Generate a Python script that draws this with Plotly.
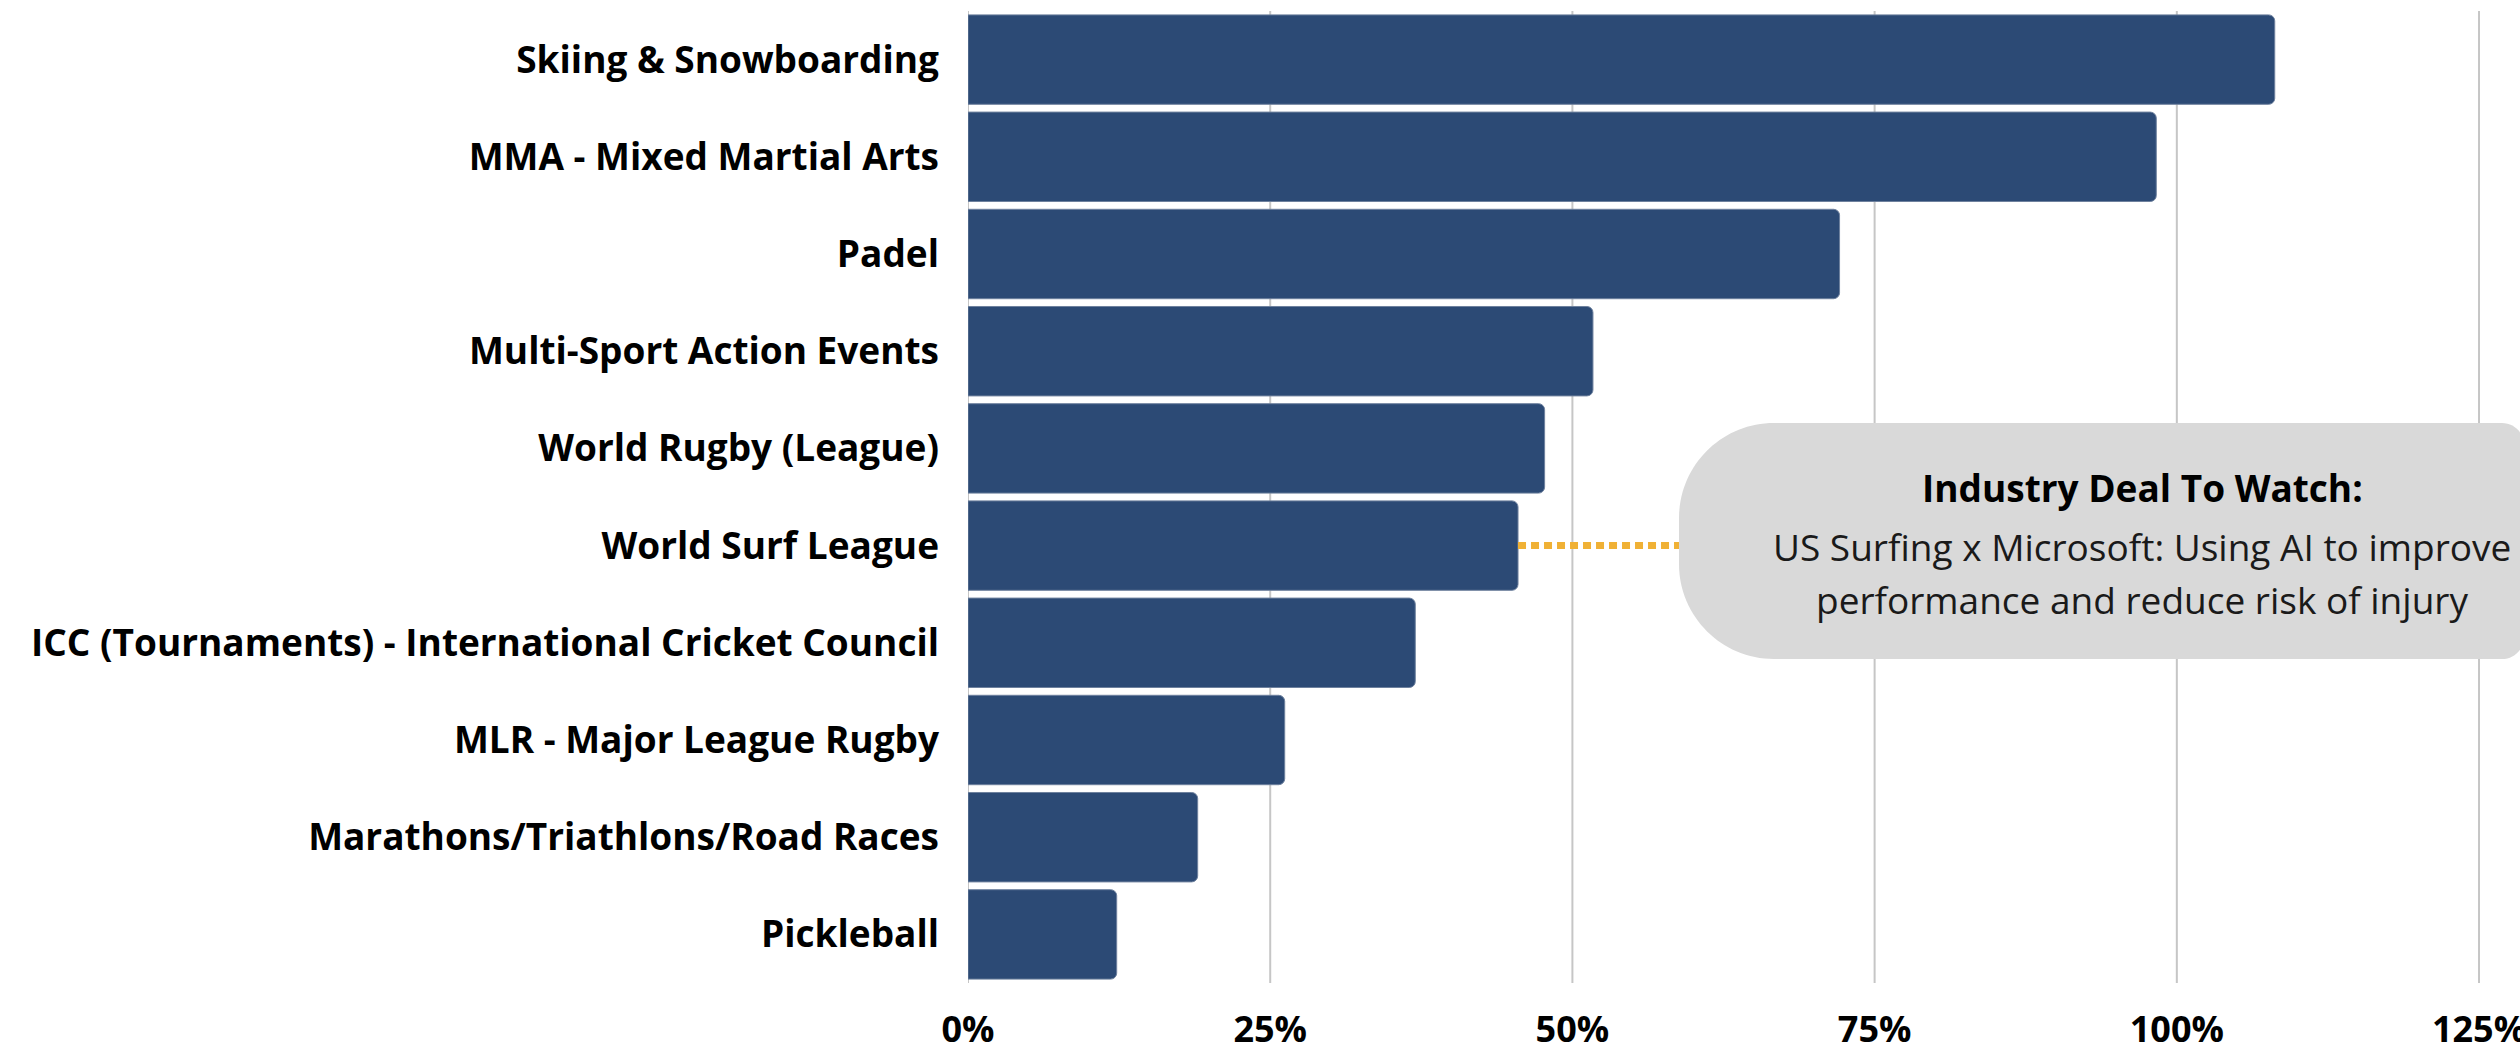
import plotly.graph_objects as go

categories = [
    "Skiing & Snowboarding",
    "MMA - Mixed Martial Arts",
    "Padel",
    "Multi-Sport Action Events",
    "World Rugby (League)",
    "World Surf League",
    "ICC (Tournaments) - International Cricket Council",
    "MLR - Major League Rugby",
    "Marathons/Triathlons/Road Races",
    "Pickleball",
]
values = [108.1, 98.3, 72.1, 51.7, 47.7, 45.5, 37.0, 26.2, 19.0, 12.3]
tick_vals = [0, 25, 50, 75, 100, 125]
tick_text = ["0%", "25%", "50%", "75%", "100%", "125%"]

callout_title = "Industry Deal To Watch:"
callout_lines = [
    "US Surfing x Microsoft: Using AI to improve",
    "performance and reduce risk of injury",
]
callout_category = "World Surf League"

W, H = 2520, 1051
ML, MR, MT, MB = 968, 40, 11, 68
PW = W - ML - MR
PH = H - MT - MB
XMAX = 125.08

def px_to_paper_x(px):
    return (px - ML) / PW

def px_to_paper_y(py):
    return (H - MB - py) / PH

fig = go.Figure()
fig.add_trace(go.Bar(
    y=categories,
    x=values,
    orientation="h",
    marker=dict(color="#2C4A75", line=dict(color="#6E819E", width=1)),
    hoverinfo="skip",
))

# vertical gridlines at the tick values
for v in tick_vals:
    fig.add_shape(type="line", xref="x", yref="paper", x0=v, x1=v, y0=0, y1=1,
                  line=dict(color="#C6C6C6", width=2), layer="below")

# rounded callout box (paper coords)
L = px_to_paper_x(1679)
R = px_to_paper_x(2524)
T = px_to_paper_y(423)
B = px_to_paper_y(659)
r = 95
rx = r / PW
ry = r / PH
r2 = 22
rx2 = r2 / PW
ry2 = r2 / PH
k = 0.5523
path = (
    f"M {L+rx},{T} L {R-rx2},{T} "
    f"C {R-rx2+k*rx2},{T} {R},{T-ry2+k*ry2} {R},{T-ry2} "
    f"L {R},{B+ry2} "
    f"C {R},{B+ry2-k*ry2} {R-rx2+k*rx2},{B} {R-rx2},{B} "
    f"L {L+rx},{B} "
    f"C {L+rx-k*rx},{B} {L},{B+ry-k*ry} {L},{B+ry} "
    f"L {L},{T-ry} "
    f"C {L},{T-ry+k*ry} {L+rx-k*rx},{T} {L+rx},{T} Z"
)
fig.add_shape(type="path", path=path, xref="paper", yref="paper",
              fillcolor="#D9D9D9", line=dict(width=0), layer="above")

# dotted connector from bar end to callout box
surf_val = values[categories.index(callout_category)]
fig.add_shape(type="line", xref="x", yref="y",
              x0=surf_val, x1=L * XMAX, y0=callout_category, y1=callout_category,
              line=dict(color="#F0B135", width=7, dash="8px,5px"), layer="above")

cx = px_to_paper_x(2142)
fig.add_annotation(x=cx, y=px_to_paper_y(487), xref="paper", yref="paper",
                   text=f"<b>{callout_title}</b>", showarrow=False,
                   font=dict(family="Open Sans", size=37, color="#000000"),
                   xanchor="center", yanchor="middle")
for line, py in zip(callout_lines, [546, 599]):
    fig.add_annotation(x=cx, y=px_to_paper_y(py), xref="paper", yref="paper",
                       text=line, showarrow=False,
                       font=dict(family="Open Sans", size=37, color="#1a1a1a"),
                       xanchor="center", yanchor="middle")

fig.update_layout(
    width=W, height=H,
    margin=dict(l=ML, r=MR, t=MT, b=MB, autoexpand=False),
    plot_bgcolor="white", paper_bgcolor="white",
    showlegend=False,
    bargap=0.08,
    barcornerradius=6,
    font=dict(family="Open Sans", color="#000000"),
)
fig.update_xaxes(
    range=[0, XMAX],
    tickvals=tick_vals, ticktext=tick_text,
    showgrid=False, zeroline=False,
    showline=False, ticks="",
    tickfont=dict(family="Open Sans", size=36, color="#000000", weight="bold"),
    ticklabelstandoff=22,
    ticklabeloverflow="allow",
    automargin=False,
    fixedrange=True,
)
fig.update_yaxes(
    autorange="reversed",
    showgrid=False, zeroline=False, showline=False, ticks="",
    tickfont=dict(family="Open Sans", size=37, color="#000000", weight="bold"),
    ticklabelstandoff=28,
    automargin=False,
    fixedrange=True,
)

fig.write_html(
    "out.html",
    config={"displayModeBar": False},
    post_script="document.body.style.margin='0';document.body.style.overflow='hidden';",
)
